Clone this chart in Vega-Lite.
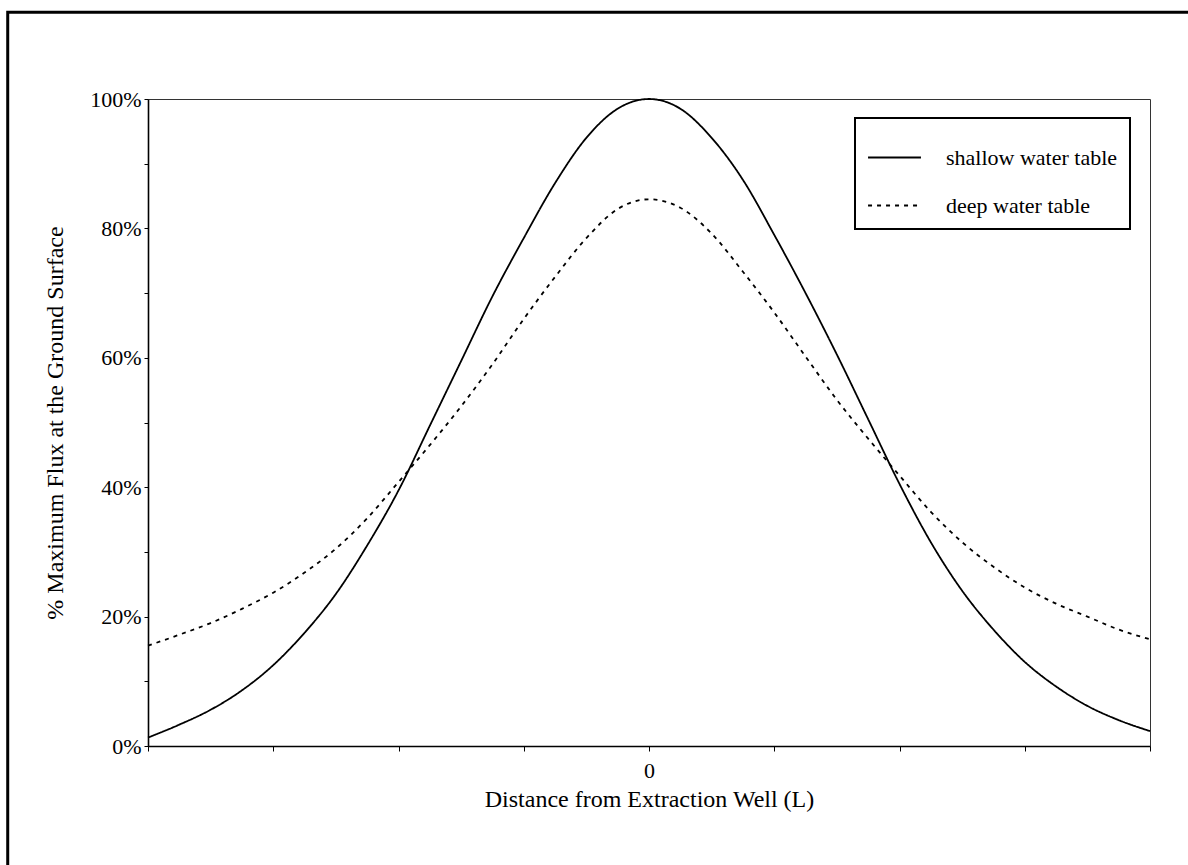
{
  "$schema": "https://vega.github.io/schema/vega-lite/v6.json",
  "width": 1002,
  "height": 647,
  "autosize": {"type": "none"},
  "padding": {"left": 148, "top": 99, "right": 38, "bottom": 119},
  "background": "white",
  "config": {
    "view": {"stroke": "#333333", "strokeWidth": 1},
    "font": "Liberation Serif",
    "axis": {"domainColor": "black", "domainWidth": 1.6, "tickColor": "black", "labelColor": "black", "titleColor": "black", "grid": false}
  },
  "datasets": {
    "curves": [
      {"series": "shallow water table", "distance": -4, "flux": 1.3},
      {"series": "shallow water table", "distance": -3.75, "flux": 3.3},
      {"series": "shallow water table", "distance": -3.5, "flux": 5.6},
      {"series": "shallow water table", "distance": -3.25, "flux": 8.6},
      {"series": "shallow water table", "distance": -3, "flux": 12.5},
      {"series": "shallow water table", "distance": -2.75, "flux": 17.5},
      {"series": "shallow water table", "distance": -2.5, "flux": 23.5},
      {"series": "shallow water table", "distance": -2.25, "flux": 31},
      {"series": "shallow water table", "distance": -2, "flux": 39.5},
      {"series": "shallow water table", "distance": -1.75, "flux": 49.5},
      {"series": "shallow water table", "distance": -1.5, "flux": 59.5},
      {"series": "shallow water table", "distance": -1.25, "flux": 69.5},
      {"series": "shallow water table", "distance": -1, "flux": 78.5},
      {"series": "shallow water table", "distance": -0.75, "flux": 87},
      {"series": "shallow water table", "distance": -0.5, "flux": 94},
      {"series": "shallow water table", "distance": -0.25, "flux": 98.5},
      {"series": "shallow water table", "distance": 0, "flux": 100},
      {"series": "shallow water table", "distance": 0.25, "flux": 98.5},
      {"series": "shallow water table", "distance": 0.5, "flux": 94},
      {"series": "shallow water table", "distance": 0.75, "flux": 87.5},
      {"series": "shallow water table", "distance": 1, "flux": 79},
      {"series": "shallow water table", "distance": 1.25, "flux": 70},
      {"series": "shallow water table", "distance": 1.5, "flux": 60.5},
      {"series": "shallow water table", "distance": 1.75, "flux": 50.5},
      {"series": "shallow water table", "distance": 2, "flux": 40.5},
      {"series": "shallow water table", "distance": 2.25, "flux": 31.5},
      {"series": "shallow water table", "distance": 2.5, "flux": 24},
      {"series": "shallow water table", "distance": 2.75, "flux": 18},
      {"series": "shallow water table", "distance": 3, "flux": 13},
      {"series": "shallow water table", "distance": 3.25, "flux": 9.2},
      {"series": "shallow water table", "distance": 3.5, "flux": 6.2},
      {"series": "shallow water table", "distance": 3.75, "flux": 4},
      {"series": "shallow water table", "distance": 4, "flux": 2.3},
      {"series": "deep water table", "distance": -4, "flux": 15.5},
      {"series": "deep water table", "distance": -3.75, "flux": 17.2},
      {"series": "deep water table", "distance": -3.5, "flux": 19},
      {"series": "deep water table", "distance": -3.25, "flux": 21.2},
      {"series": "deep water table", "distance": -3, "flux": 23.7},
      {"series": "deep water table", "distance": -2.75, "flux": 26.8},
      {"series": "deep water table", "distance": -2.5, "flux": 30.5},
      {"series": "deep water table", "distance": -2.25, "flux": 35.2},
      {"series": "deep water table", "distance": -2, "flux": 40.8},
      {"series": "deep water table", "distance": -1.75, "flux": 46.5},
      {"series": "deep water table", "distance": -1.5, "flux": 52.5},
      {"series": "deep water table", "distance": -1.25, "flux": 59},
      {"series": "deep water table", "distance": -1, "flux": 66},
      {"series": "deep water table", "distance": -0.75, "flux": 72.5},
      {"series": "deep water table", "distance": -0.5, "flux": 78.5},
      {"series": "deep water table", "distance": -0.25, "flux": 83},
      {"series": "deep water table", "distance": 0, "flux": 84.5},
      {"series": "deep water table", "distance": 0.25, "flux": 83.2},
      {"series": "deep water table", "distance": 0.5, "flux": 79.2},
      {"series": "deep water table", "distance": 0.75, "flux": 73.3},
      {"series": "deep water table", "distance": 1, "flux": 67},
      {"series": "deep water table", "distance": 1.25, "flux": 60.2},
      {"series": "deep water table", "distance": 1.5, "flux": 53.5},
      {"series": "deep water table", "distance": 1.75, "flux": 47.5},
      {"series": "deep water table", "distance": 2, "flux": 41.8},
      {"series": "deep water table", "distance": 2.25, "flux": 36.2},
      {"series": "deep water table", "distance": 2.5, "flux": 31.5},
      {"series": "deep water table", "distance": 2.75, "flux": 27.7},
      {"series": "deep water table", "distance": 3, "flux": 24.5},
      {"series": "deep water table", "distance": 3.25, "flux": 22},
      {"series": "deep water table", "distance": 3.5, "flux": 20},
      {"series": "deep water table", "distance": 3.75, "flux": 18},
      {"series": "deep water table", "distance": 4, "flux": 16.5}
    ]
  },
  "layer": [
    {
      "data": {"name": "curves"},
      "mark": {"type": "line", "interpolate": "monotone", "color": "black", "strokeWidth": 1.8},
      "encoding": {
        "x": {
          "field": "distance", "type": "quantitative",
          "scale": {"domain": [-4, 4], "nice": false, "zero": false},
          "axis": {
            "title": "Distance from Extraction Well (L)",
            "values": [-4, -3, -2, -1, 0, 1, 2, 3, 4],
            "labelExpr": "datum.value == 0 ? '0' : ''",
            "labelFontSize": 22, "labelPadding": 9, "tickSize": 5,
            "titleFontSize": 24, "titleFontWeight": "normal", "titlePadding": 6
          }
        },
        "y": {
          "field": "flux", "type": "quantitative",
          "scale": {"domain": [0, 100], "nice": false},
          "axis": {
            "title": "% Maximum Flux at the Ground Surface",
            "values": [0, 10, 20, 30, 40, 50, 60, 70, 80, 90, 100],
            "labelExpr": "datum.value % 20 == 0 ? datum.value + '%' : ''",
            "labelFontSize": 22, "labelPadding": 3, "tickSize": 4,
            "titleFontSize": 24, "titleFontWeight": "normal", "titlePadding": 22
          }
        },
        "strokeDash": {
          "field": "series", "type": "nominal",
          "scale": {"domain": ["shallow water table", "deep water table"], "range": [[1, 0], [4, 5]]},
          "legend": {
            "title": null,
            "orient": "none",
            "legendX": 707,
            "legendY": 19,
            "strokeColor": "black",
            "fillColor": "white",
            "padding": 12,
            "symbolType": "stroke",
            "symbolSize": 2800,
            "symbolStrokeWidth": 1.8,
            "symbolStrokeColor": "black",
            "labelFontSize": 22,
            "labelColor": "black",
            "labelOffset": 24,
            "labelLimit": 300,
            "rowPadding": 9,
            "encode": {"legend": {"update": {"strokeWidth": {"value": 2}}}}
          }
        }
      }
    },
    {
      "data": {"values": [{}]},
      "mark": {"type": "rect", "fill": null, "fillOpacity": 0, "stroke": "black", "strokeWidth": 3, "clip": false},
      "encoding": {
        "x": {"datum": -5.12},
        "x2": {"datum": 4.6},
        "y": {"datum": 113.4},
        "y2": {"datum": -25}
      }
    }
  ]
}
